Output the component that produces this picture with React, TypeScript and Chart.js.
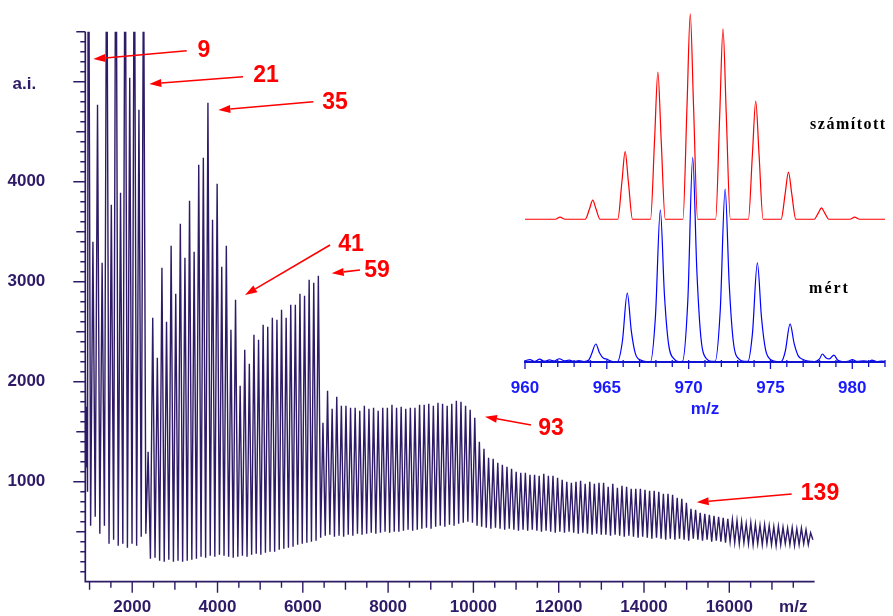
import React, { useEffect, useRef } from 'react';
import { Chart, registerables } from 'chart.js';

Chart.register(...registerables);

const INK = '#2e1a66';
const RED = '#ff0000';
const BLUE = '#0000ff';
const BLUE_AXIS = '#1212d2';
const BLUE_TEXT = '#1a1aff';
const SANS = '"Liberation Sans", Arial, Helvetica, sans-serif';
const SERIF = '"Liberation Serif", "Times New Roman", serif';

// ---- Main spectrum: silver cluster ions Ag_n+, one Ag atom per step ----
const AG_MASS = 107.87;
const FIRST_N = 9;
// peak height for n = 9, 10, 11, ... 166
const peakHeights = [
  8000, 3400, 4770, 3190, 7000, 3770, 7500, 3890, 7200, 5040, 7000, 4720,
  6500, 1300, 2640, 2240, 3140, 2600, 3360, 2880, 3580, 3240,
  3810, 3300, 4170, 4240, 4790, 3620, 3980, 3150, 3360, 2520,
  2820, 1960, 2320, 2180, 2470, 2420, 2570, 2550, 2640, 2620,
  2720, 2640, 2770, 2770, 2880, 2860, 3020, 2990, 3060, 1590,
  1910, 1730, 1850, 1760, 1760, 1740, 1740, 1710, 1760, 1730,
  1740, 1710, 1740, 1740, 1770, 1740, 1750, 1730, 1740, 1740,
  1770, 1770, 1780, 1760, 1790, 1780, 1760, 1780, 1810, 1800,
  1760, 1720, 1640, 1400, 1330, 1240, 1230, 1190, 1170, 1150,
  1130, 1100, 1090, 1090, 1070, 1070, 1060, 1080, 1060, 1060,
  1040, 1020, 1000, 990, 1000, 1010, 980, 1000, 980, 990,
  990, 950, 980, 940, 960, 950, 930, 930, 930, 920,
  910, 910, 900, 880, 880, 870, 840, 830, 790, 730,
  720, 690, 680, 670, 660, 650, 640, 630, 620, 610,
  600, 580, 590, 575, 565, 570, 560, 550, 555, 545,
  535, 540, 530, 535, 520, 490,
];
// valley (minimum) after each peak
const valleyHeights = [
  560, 650, 480, 560, 380, 420, 360, 380, 340, 380, 360, 450,
  480, 230, 240, 210, 200, 220, 200, 210, 200, 210,
  220, 230, 250, 240, 260, 250, 270, 260, 250, 240,
  250, 260, 250, 270, 280, 270, 290, 300, 300, 320,
  330, 340, 350, 370, 380, 390, 400, 410, 440, 460,
  470, 450, 460, 450, 470, 460, 480, 470, 480, 490,
  480, 490, 500, 490, 500, 500, 510, 520, 510, 520,
  530, 540, 530, 550, 560, 550, 570, 560, 580, 590,
  600, 590, 560, 550, 540, 530, 540, 530, 520, 530,
  520, 510, 520, 510, 520, 510, 500, 510, 500, 490,
  500, 490, 500, 490, 480, 490, 480, 470, 480, 470,
  470, 460, 470, 460, 450, 460, 450, 440, 450, 440,
  430, 440, 430, 420, 430, 420, 430, 420, 410, 430,
  420, 410, 420, 400, 410, 400, 390, 400, 390, 380,
  390, 380, 370, 380, 370, 380, 370, 360, 370, 380,
  370, 360, 370, 380, 370, 420,
];
// low-mass start of the trace
const leadMz = [900, 918, 936, 952];
const leadI = [2150, 1150, 1750, 900];

// annotations (cluster sizes) in data units
const annText = ['9', '21', '35', '41', '59', '93', '139'];
const annTipMz = [1088, 2401, 4019, 4645, 6678, 10272, 15236];
const annTipI = [5227, 4977, 4717, 2867, 3084, 1650, 794];
const annTailMz = [3278, 4598, 6246, 6638, 7341, 11350, 17463];
const annTailI = [5310, 5050, 4800, 3367, 3117, 1567, 877];
const annTextMz = [3683, 5137, 6755, 7130, 7740, 11819, 18127];
const annTextI = [5317, 5067, 4797, 3377, 3117, 1537, 887];

// ---- Inset: isotope pattern of Ag9+ ----
const calcMz = [960, 961.85, 962.14, 962.45, 963.68, 963.94, 964.14, 964.34, 964.59,
  965.67, 965.92, 966.12, 966.32, 966.57, 967.67, 967.92, 968.12, 968.32, 968.57,
  969.65, 969.9, 970.1, 970.3, 970.55, 971.65, 971.9, 972.1, 972.3, 972.55,
  973.65, 973.9, 974.1, 974.3, 974.55, 975.65, 975.9, 976.1, 976.3, 976.55,
  977.67, 977.92, 978.12, 978.32, 978.57, 979.85, 980.15, 980.45, 982];
const calcI = [0, 0, 1, 0, 0, 5, 9.3, 5, 0,
  0, 18, 32.9, 18, 0, 0, 39, 71.7, 39, 0,
  0, 55, 100, 55, 0, 0, 51, 92.7, 51, 0,
  0, 32, 57.6, 32, 0, 0, 12.5, 23, 12.5, 0,
  0, 3, 5.5, 3, 0, 0, 1, 0, 0];

const measMz = [960, 960.3, 960.6, 960.9, 961.2, 961.5, 961.8, 962.1, 962.4, 962.7, 963.0, 963.3, 963.6,
  963.9, 964.05, 964.33, 964.55, 964.8, 965.0, 965.25, 965.45,
  965.65, 965.95, 966.25, 966.5, 966.75, 967.1, 967.4,
  967.67, 967.97, 968.27, 968.52, 968.77, 969.15, 969.4,
  969.62, 969.95, 970.25, 970.5, 970.75, 971.1, 971.4,
  971.62, 971.93, 972.23, 972.48, 972.73, 973.1, 973.4,
  973.62, 973.9, 974.2, 974.45, 974.7, 975.05, 975.4,
  975.65, 975.9, 976.2, 976.45, 976.7, 977.0, 977.3,
  977.7, 978.0, 978.17, 978.4, 978.6, 978.88, 979.1, 979.4, 979.8, 980.0, 980.3, 980.7, 981.0, 981.2, 981.5, 981.8, 982];
const measI = [0.6, 1.2, 0.3, 1.4, 0.4, 1.0, 0.5, 1.6, 0.6, 0.9, 0.3, 0.7, 0.2,
  1.0, 3.5, 8.8, 4.5, 1.8, 1.4, 0.4, 0.1,
  0.2, 10, 33.7, 15, 4, 0.8, 0.2,
  0.2, 22, 74.3, 33, 9, 1.2, 0.2,
  0.3, 30, 100, 45, 12, 1.5, 0.3,
  0.3, 25, 84.5, 38, 10, 1.3, 0.3,
  0.3, 14, 48.4, 22, 6, 1, 0.2,
  0.2, 5, 18.6, 9, 3, 1.2, 0.4,
  0.2, 1.5, 3.9, 2, 1.5, 3.4, 1, 0.2, 0.5, 1.2, 0.3, 0.6, 0.2, 0.9, 0.2, 0.5, 0.2];

const calcLabel = 'számított';
const measLabel = 'mért';

function buildSpectrum() {
  const pts: { x: number; y: number }[] = [];
  leadMz.forEach((m, i) => pts.push({ x: m, y: leadI[i] }));
  peakHeights.forEach((h, i) => {
    const n = FIRST_N + i;
    pts.push({ x: n * AG_MASS, y: h });
    pts.push({ x: (n + 0.5) * AG_MASS, y: valleyHeights[i] });
  });
  return pts;
}

function drawArrow(ctx: CanvasRenderingContext2D, x0: number, y0: number, x1: number, y1: number) {
  const ang = Math.atan2(y1 - y0, x1 - x0);
  const L = 12, W = 4;
  const bx = x1 - L * Math.cos(ang), by = y1 - L * Math.sin(ang);
  ctx.beginPath();
  ctx.moveTo(x0, y0);
  ctx.lineTo(bx, by);
  ctx.stroke();
  ctx.beginPath();
  ctx.moveTo(x1, y1);
  ctx.lineTo(bx + W * Math.sin(ang), by - W * Math.cos(ang));
  ctx.lineTo(bx - W * Math.sin(ang), by + W * Math.cos(ang));
  ctx.closePath();
  ctx.fill();
}

const zeroPad = (s: any) => {
  s.paddingTop = 0; s.paddingBottom = 0; s.paddingLeft = 0; s.paddingRight = 0;
};

const mainDecor = {
  id: 'mainDecor',
  afterDraw(chart: any) {
    const { ctx, chartArea: a, scales } = chart;
    const x = scales.x, y = scales.y;
    ctx.save();
    ctx.strokeStyle = INK;
    ctx.lineWidth = 1.7;
    ctx.beginPath();
    ctx.moveTo(a.left, a.top);
    ctx.lineTo(a.left, a.bottom);
    ctx.lineTo(a.right, a.bottom);
    ctx.stroke();
    ctx.lineWidth = 1.4;
    ctx.beginPath();
    for (let v = 100; v <= 5500; v += 100) {
      const len = v % 1000 === 0 ? 12 : v % 500 === 0 ? 9 : 5;
      const p = y.getPixelForValue(v);
      ctx.moveTo(a.left - len, p);
      ctx.lineTo(a.left, p);
    }
    for (let v = 1000; v <= 17500; v += 500) {
      const len = v % 2000 === 0 ? 11 : v % 1000 === 0 ? 8 : 6;
      const p = x.getPixelForValue(v);
      ctx.moveTo(p, a.bottom);
      ctx.lineTo(p, a.bottom + len);
    }
    ctx.stroke();
    // unit label in place of the 5000 tick label
    ctx.fillStyle = INK;
    ctx.font = `bold 17px ${SANS}`;
    ctx.textAlign = 'center';
    ctx.textBaseline = 'middle';
    ctx.fillText('a.i.', a.left - 61, y.getPixelForValue(5000) + 3);
    // annotations
    ctx.strokeStyle = RED;
    ctx.fillStyle = RED;
    ctx.lineWidth = 1.6;
    annText.forEach((t, i) => {
      drawArrow(ctx,
        x.getPixelForValue(annTailMz[i]), y.getPixelForValue(annTailI[i]),
        x.getPixelForValue(annTipMz[i]), y.getPixelForValue(annTipI[i]));
    });
    ctx.font = `bold 23px ${SANS}`;
    ctx.textAlign = 'center';
    ctx.textBaseline = 'middle';
    annText.forEach((t, i) => {
      ctx.fillText(t, x.getPixelForValue(annTextMz[i]), y.getPixelForValue(annTextI[i]) + 1);
    });
    ctx.restore();
  },
};

const insetDecor = {
  id: 'insetDecor',
  afterDraw(chart: any) {
    const { ctx, chartArea: a, scales } = chart;
    const x = scales.x, yb = scales.yb, yr = scales.yr;
    const base = yb.getPixelForValue(0);
    ctx.save();
    ctx.strokeStyle = BLUE_AXIS;
    ctx.lineWidth = 2;
    ctx.beginPath();
    ctx.moveTo(a.left - 1, base);
    ctx.lineTo(a.right, base);
    ctx.stroke();
    ctx.lineWidth = 1.3;
    ctx.beginPath();
    for (let v = 960; v <= 982; v += 1) {
      const p = x.getPixelForValue(v);
      const len = v % 5 === 0 ? 7 : 5;
      ctx.moveTo(p, base - 2);
      ctx.lineTo(p, base + len);
    }
    ctx.stroke();
    ctx.fillStyle = BLUE_TEXT;
    ctx.font = `bold 17px ${SANS}`;
    ctx.textAlign = 'center';
    ctx.textBaseline = 'middle';
    ctx.fillText('m/z', x.getPixelForValue(971), base + 47);
    ctx.fillStyle = '#000';
    ctx.font = `bold 16px ${SERIF}`;
    ctx.textAlign = 'left';
    (ctx as any).letterSpacing = '1.5px';
    ctx.fillText(calcLabel, x.getPixelForValue(977.42), yr.getPixelForValue(45.9));
    (ctx as any).letterSpacing = '2px';
    ctx.fillText(measLabel, x.getPixelForValue(977.36), yb.getPixelForValue(35.7));
    ctx.restore();
  },
};

export default function App() {
  const mainRef = useRef<HTMLCanvasElement>(null);
  const insetRef = useRef<HTMLCanvasElement>(null);

  useEffect(() => {
    const main = new Chart(mainRef.current as HTMLCanvasElement, {
      type: 'line',
      data: {
        datasets: [{
          data: buildSpectrum(),
          borderColor: INK,
          borderWidth: 1.4,
          pointRadius: 0,
          fill: false,
          tension: 0,
        }],
      },
      options: {
        animation: false,
        responsive: false,
        devicePixelRatio: 1,
        parsing: false,
        layout: { padding: { left: 0, right: 78.4, top: 31.7, bottom: 0 } },
        plugins: { legend: { display: false }, tooltip: { enabled: false } },
        scales: {
          x: {
            type: 'linear',
            min: 900,
            max: 18000,
            afterFit: (s: any) => { s.height = 34.3; zeroPad(s); },
            grid: { display: false, drawTicks: false },
            border: { display: false },
            ticks: {
              stepSize: 100,
              autoSkip: false,
              maxRotation: 0,
              includeBounds: false,
              padding: 15,
              color: INK,
              font: { family: SANS, size: 17, weight: 'bold' },
              callback: (v: any) => (v === 17500 ? 'm/z' : (v % 2000 === 0 && v <= 16000) ? String(v) : ''),
            },
          },
          y: {
            type: 'linear',
            min: 0,
            max: 5500,
            afterFit: (s: any) => { s.width = 85.3; zeroPad(s); },
            grid: { display: false, drawTicks: false },
            border: { display: false },
            ticks: {
              stepSize: 100,
              autoSkip: false,
              includeBounds: false,
              padding: 40,
              color: INK,
              font: { family: SANS, size: 17, weight: 'bold' },
              callback: (v: any) => (v % 1000 === 0 && v >= 1000 && v <= 4000 ? String(v) : ''),
            },
          },
        },
      } as any,
      plugins: [mainDecor],
    });

    const inset = new Chart(insetRef.current as HTMLCanvasElement, {
      type: 'line',
      data: {
        datasets: [
          {
            data: calcMz.map((m, i) => ({ x: m, y: calcI[i] })),
            yAxisID: 'yr',
            borderColor: RED,
            borderWidth: 1.2,
            pointRadius: 0,
            fill: false,
            cubicInterpolationMode: 'monotone',
          },
          {
            data: measMz.map((m, i) => ({ x: m, y: measI[i] })),
            yAxisID: 'yb',
            borderColor: BLUE,
            borderWidth: 1.2,
            pointRadius: 0,
            fill: false,
            cubicInterpolationMode: 'monotone',
          },
        ],
      },
      options: {
        animation: false,
        responsive: false,
        devicePixelRatio: 1,
        parsing: false,
        layout: { padding: { left: 85, right: 8, top: 10, bottom: 0 } },
        plugins: { legend: { display: false }, tooltip: { enabled: false } },
        scales: {
          x: {
            type: 'linear',
            min: 960,
            max: 982,
            afterFit: (s: any) => { s.height = 68; zeroPad(s); },
            grid: { display: false, drawTicks: false },
            border: { display: false },
            ticks: {
              stepSize: 1,
              autoSkip: false,
              maxRotation: 0,
              includeBounds: false,
              padding: 16,
              color: BLUE_TEXT,
              font: { family: SANS, size: 17, weight: 'bold' },
              callback: (v: any) => (v % 5 === 0 ? String(v) : ''),
            },
          },
          yb: { type: 'linear', display: false, min: 0, max: 172 },
          yr: { type: 'linear', display: false, min: -69.5, max: 101.9 },
        },
      } as any,
      plugins: [insetDecor],
    });

    return () => {
      main.destroy();
      inset.destroy();
    };
  }, []);

  return (
    <div style={{ position: 'absolute', left: 0, top: 0, width: 893, height: 616, background: '#fff' }}>
      <canvas ref={mainRef} width={893} height={616}
        style={{ position: 'absolute', left: 0, top: 0, width: 893, height: 616 }} />
      <canvas ref={insetRef} width={453} height={430}
        style={{ position: 'absolute', left: 440, top: 0, width: 453, height: 430 }} />
    </div>
  );
}
